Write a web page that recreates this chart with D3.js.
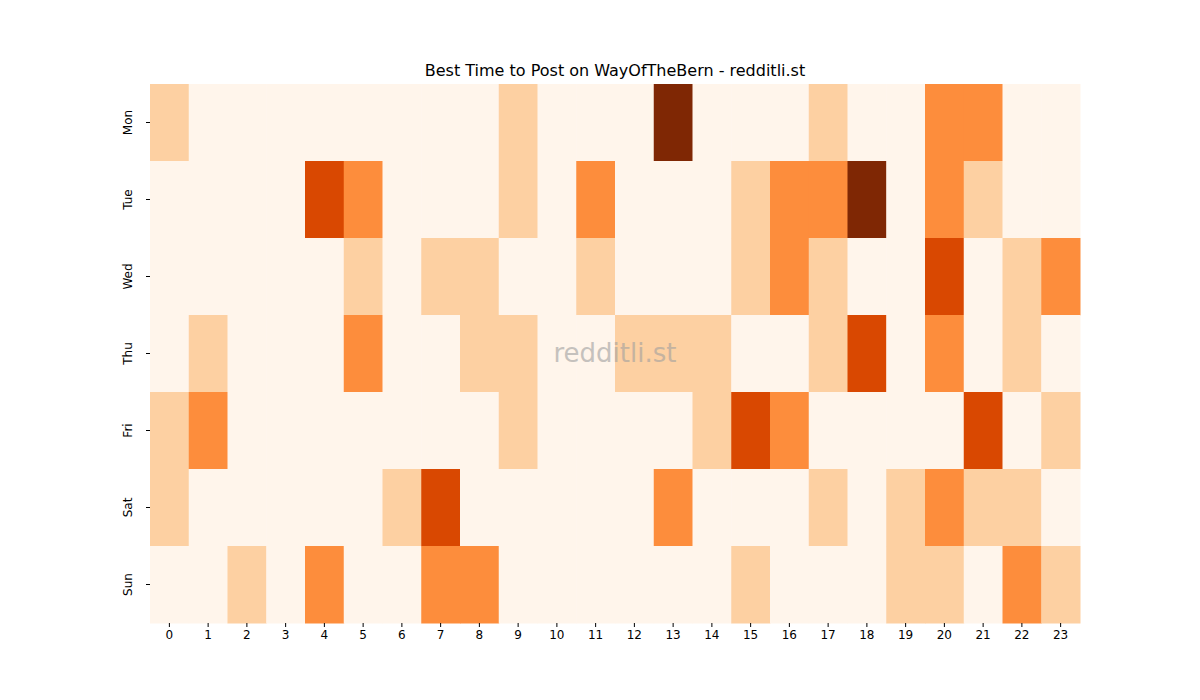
<!DOCTYPE html><html><head><meta charset="utf-8">
<script src="https://cdn.jsdelivr.net/npm/d3@7"></script>
<style>body{margin:0;background:#fff}text{font-family:"DejaVu Sans",sans-serif}</style></head><body>
<svg id="c" width="1200" height="700"></svg>
<script>
const days=["Mon","Tue","Wed","Thu","Fri","Sat","Sun"];
const hours=d3.range(24).map(String);
const mon=[1,0,0,0,0,0,0,0,0,1,0,0,0,4,0,0,0,1,0,0,2,2,0,0];
const tue=[0,0,0,0,3,2,0,0,0,1,0,2,0,0,0,1,2,2,4,0,2,1,0,0];
const wed=[0,0,0,0,0,1,0,1,1,0,0,1,0,0,0,1,2,1,0,0,3,0,1,2];
const thu=[0,1,0,0,0,2,0,0,1,1,0,0,1,1,1,0,0,1,3,0,2,0,1,0];
const fri=[1,2,0,0,0,0,0,0,0,1,0,0,0,0,1,3,2,0,0,0,0,3,0,1];
const sat=[1,0,0,0,0,0,1,3,0,0,0,0,0,2,0,0,0,1,0,1,2,1,1,0];
const sun=[0,0,1,0,2,0,0,2,2,0,0,0,0,0,0,1,0,0,0,1,1,0,2,1];
const values=[mon,tue,wed,thu,fri,sat,sun];
const palette=["#fff5eb","#fdd0a2","#fd8d3c","#d94801","#7f2704"];
const svg=d3.select("#c");
const x=d3.scaleBand().domain(hours).range([150,1080]);
const y=d3.scaleBand().domain(days).range([84,623]);
const color=d3.scaleOrdinal().domain([0,1,2,3,4]).range(palette);
const cells=[];values.forEach((r,i)=>r.forEach((v,j)=>cells.push({d:days[i],h:hours[j],v})));
svg.selectAll("rect").data(cells).join("rect")
 .attr("x",d=>x(d.h)).attr("y",d=>y(d.d)).attr("width",x.bandwidth()+0.5).attr("height",y.bandwidth()+0.5)
 .attr("fill",d=>color(d.v));
const xa=svg.append("g").attr("transform","translate(0,623)").call(d3.axisBottom(x).tickSizeOuter(0).tickSize(4));
xa.select(".domain").remove();xa.selectAll("text").attr("font-size",12).attr("fill","#000");
const ya=svg.append("g").attr("transform","translate(150,0)").call(d3.axisLeft(y).tickSizeOuter(0).tickSize(4));
ya.select(".domain").remove();
ya.selectAll("text").attr("font-size",12).attr("fill","#000").attr("text-anchor","middle")
 .attr("transform",function(){return "rotate(-90)";}).attr("x",0).attr("y",-15).attr("dy","0.35em")
 .each(function(d){d3.select(this).attr("transform",`translate(-22,${y.bandwidth()/2-y.bandwidth()/2}) rotate(-90)`).attr("x",0).attr("y",0);});
svg.append("text").attr("x",615).attr("y",76).attr("text-anchor","middle").attr("font-size",16).text("Best Time to Post on WayOfTheBern - redditli.st");
svg.append("text").attr("x",615).attr("y",362).attr("text-anchor","middle").attr("font-size",26).attr("fill","#a0a0a0").attr("opacity",0.6).text("redditli.st");
</script></body></html>
